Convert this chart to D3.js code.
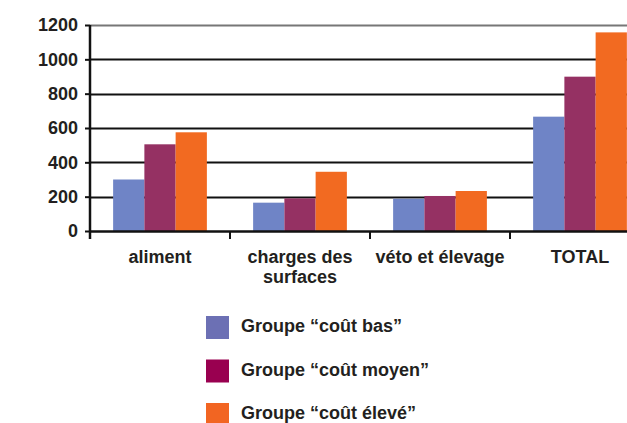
<!DOCTYPE html>
<html>
<head>
<meta charset="utf-8">
<script src="https://cdn.jsdelivr.net/npm/d3@7"></script>
<style>
    body { margin: 0; background: #fff; }
    svg { display: block; font-family: "Liberation Sans", Arial, sans-serif; }
</style>
</head>
<body>
<svg id="chart" width="627" height="423"></svg>
<script>

const categories = ["aliment", "charges des|surfaces", "véto et élevage", "TOTAL"];
const series = ["Groupe “coût bas”", "Groupe “coût moyen”", "Groupe “coût élevé”"];
const coutBas = [300, 165, 188, 666];
const coutMoyen = [505, 190, 204, 899];
const coutEleve = [575, 345, 233, 1157];
const yTicks = [0, 200, 400, 600, 800, 1000, 1200];

const barColors = ["#6f84c6", "#953163", "#f26a21"];
const legendColors = ["#6c70b4", "#990050", "#f26522"];

const values = [coutBas, coutMoyen, coutEleve];

const svg = d3.select("#chart");

const xScale = d3.scaleBand()
    .domain(categories)
    .range([90, 650])
    .paddingInner(0)
    .paddingOuter(0);

const xInner = d3.scaleBand()
    .domain(series)
    .range([0, xScale.bandwidth()])
    .paddingInner(0)
    .paddingOuter(0.74);

const yScale = d3.scaleLinear()
    .domain([0, 1200])
    .range([231, 25]);

// Gridlines
svg.append("g")
    .selectAll("line")
    .data(yTicks.filter(d => d > 0))
    .enter().append("line")
    .attr("x1", 90)
    .attr("x2", 627)
    .attr("y1", d => Math.round(yScale(d)) + 0.5)
    .attr("y2", d => Math.round(yScale(d)) + 0.5)
    .attr("stroke", d => d === 1200 ? "#777" : "#111")
    .attr("stroke-width", 2);

// Bars
const groups = svg.append("g")
    .selectAll("g")
    .data(categories)
    .enter().append("g")
    .attr("transform", d => `translate(${xScale(d)},0)`);

groups.selectAll("rect")
    .data((d, i) => series.map((s, j) => ({ s: s, v: values[j][i], c: barColors[j] })))
    .enter().append("rect")
    .attr("x", d => xInner(d.s))
    .attr("y", d => yScale(d.v))
    .attr("width", xInner.bandwidth())
    .attr("height", d => yScale(0) - yScale(d.v))
    .attr("fill", d => d.c);

// Y axis
const yAxis = d3.axisLeft(yScale).tickValues(yTicks).tickFormat(d3.format("d")).tickSize(5).tickPadding(7);
const yG = svg.append("g")
    .attr("transform", "translate(90,0)")
    .call(yAxis);
yG.select(".domain").remove();
yG.selectAll(".tick line").attr("stroke", "#111").attr("stroke-width", 2);
yG.selectAll("text")
    .attr("font-size", 18)
    .attr("font-weight", "bold")
    .attr("fill", "#231f20");

svg.append("line")
    .attr("x1", 90).attr("x2", 90)
    .attr("y1", 25).attr("y2", 239)
    .attr("stroke", "#111").attr("stroke-width", 2.5);

// X axis
svg.append("line")
    .attr("x1", 89).attr("x2", 627)
    .attr("y1", 231.5).attr("y2", 231.5)
    .attr("stroke", "#111").attr("stroke-width", 2.5);

svg.append("g")
    .selectAll("line")
    .data(categories.slice(1))
    .enter().append("line")
    .attr("x1", d => xScale(d)).attr("x2", d => xScale(d))
    .attr("y1", 231).attr("y2", 239)
    .attr("stroke", "#111").attr("stroke-width", 2);

const labels = svg.append("g")
    .selectAll("text")
    .data(categories)
    .enter().append("text")
    .attr("x", d => xScale(d) + xScale.bandwidth() / 2)
    .attr("y", 263)
    .attr("text-anchor", "middle")
    .attr("font-size", 18)
    .attr("font-weight", "bold")
    .attr("fill", "#231f20");

labels.each(function(d) {
    const parts = d.split("|");
    const t = d3.select(this);
    parts.forEach((p, i) => {
        t.append("tspan")
            .attr("x", xScale(d) + xScale.bandwidth() / 2)
            .attr("dy", i === 0 ? 0 : 20)
            .text(p);
    });
});

// Legend
const legend = svg.append("g")
    .selectAll("g")
    .data(series)
    .enter().append("g")
    .attr("transform", (d, i) => `translate(206,${316 + i * 43.5})`);

legend.append("rect")
    .attr("width", 23)
    .attr("height", 23)
    .attr("fill", (d, i) => legendColors[i]);

legend.append("text")
    .attr("x", 35)
    .attr("y", 16)
    .attr("font-size", 18)
    .attr("font-weight", "bold")
    .attr("fill", "#231f20")
    .text(d => d);

</script>
</body>
</html>
